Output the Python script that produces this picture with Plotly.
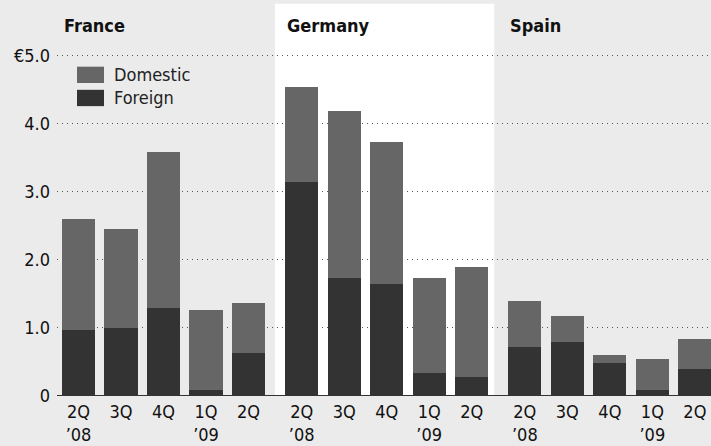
import plotly.graph_objects as go

# Quarterly amounts, billions of euros
countries = ["France", "Germany", "Spain"]
quarters = ["2Q", "3Q", "4Q", "1Q", "2Q"]
years = ["’08", "", "", "’09", ""]

foreign_france = [0.97, 1.00, 1.30, 0.09, 0.63]
domestic_france = [1.63, 1.45, 2.28, 1.18, 0.74]
foreign_germany = [3.14, 1.74, 1.64, 0.34, 0.28]
domestic_germany = [1.40, 2.45, 2.09, 1.40, 1.62]
foreign_spain = [0.72, 0.80, 0.49, 0.09, 0.40]
domestic_spain = [0.67, 0.37, 0.11, 0.46, 0.44]

y_ticks = [0, 1, 2, 3, 4, 5]
y_tick_labels = ["0", "1.0", "2.0", "3.0", "4.0", "€5.0"]

foreign = foreign_france + foreign_germany + foreign_spain
domestic = domestic_france + domestic_germany + domestic_spain

GROUP_STEP = 5.25
BAR_W = 0.78
FONT = "Liberation Sans Narrow, DejaVu Sans Condensed, Roboto, sans-serif"
BG = "#ebebeb"
C_DOM = "#666666"
C_FOR = "#333333"

xs = [g * GROUP_STEP + j for g in range(len(countries)) for j in range(len(quarters))]
tick_text = [f"{q}<br>{y}" if y else q for _ in countries for q, y in zip(quarters, years)]

fig = go.Figure()
fig.add_bar(x=xs, y=foreign, width=BAR_W, marker=dict(color=C_FOR, line=dict(width=0)),
            name="Foreign", showlegend=False)
fig.add_bar(x=xs, y=domestic, width=BAR_W, marker=dict(color=C_DOM, line=dict(width=0)),
            name="Domestic", showlegend=False)

shapes = []
annotations = []

# white panel behind Germany
g0 = 1 * GROUP_STEP
shapes.append(dict(type="rect", xref="x", yref="y", x0=g0 - 0.63, x1=g0 + 4.53,
                   y0=0, y1=5.765, fillcolor="white", line=dict(width=0), layer="below"))

# baseline
shapes.append(dict(type="line", xref="paper", yref="y", x0=0, x1=1, y0=0, y1=0,
                   line=dict(color="#333333", width=2), layer="above"))

for g, name in enumerate(countries):
    base = g * GROUP_STEP
    # year divider between 4Q and 1Q
    shapes.append(dict(type="line", xref="x", yref="y", x0=base + 2.5, x1=base + 2.5,
                       y0=0, y1=-0.25, line=dict(color="#222222", width=1.2)))
    annotations.append(dict(x=base - BAR_W / 2, y=5.44, xref="x", yref="y",
                            text=f"<b>{name}</b>", showarrow=False,
                            xanchor="left", yanchor="middle",
                            font=dict(family=FONT, size=18, color="#111111")))

# legend
legend_items = [("Domestic", C_DOM, 4.72), ("Foreign", C_FOR, 4.38)]
for label, color, yc in legend_items:
    shapes.append(dict(type="rect", xref="x", yref="y", x0=-0.035, x1=0.6,
                       y0=yc - 0.12, y1=yc + 0.12, fillcolor=color, line=dict(width=0)))
    annotations.append(dict(x=0.78, y=yc, xref="x", yref="y", text=label, showarrow=False,
                            xanchor="left", yanchor="middle",
                            font=dict(family=FONT, size=18, color="#222222")))

fig.update_layout(
    barmode="stack",
    width=711, height=446,
    margin=dict(l=57, r=0, t=0, b=50),
    paper_bgcolor=BG, plot_bgcolor=BG,
    shapes=shapes, annotations=annotations,
    showlegend=False,
    font=dict(family=FONT, size=18, color="#111111"),
)
fig.update_xaxes(range=[-0.506, 14.88], tickvals=xs, ticktext=tick_text,
                 showgrid=False, zeroline=False, showline=False, ticks="",
                 ticklabelstandoff=3, automargin=False,
                 tickfont=dict(family=FONT, size=18, color="#111111"))
fig.update_yaxes(range=[0, 5.82], tickvals=y_ticks, ticktext=y_tick_labels,
                 showgrid=True, gridcolor="#555555", gridwidth=1, griddash="1px,4px",
                 zeroline=False, showline=False, ticks="", ticklabelstandoff=6,
                 automargin=False,
                 tickfont=dict(family=FONT, size=18, color="#111111"))

fig.write_html("out.html")
